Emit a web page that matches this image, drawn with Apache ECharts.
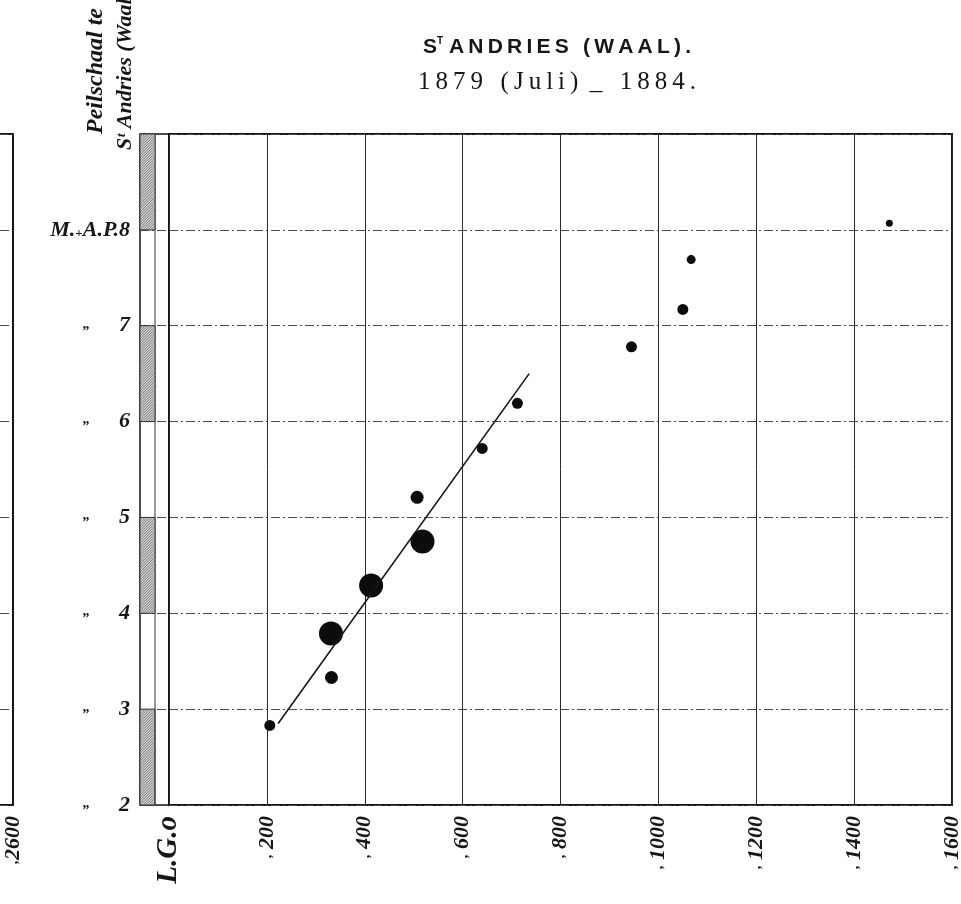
<!DOCTYPE html>
<html>
<head>
<meta charset="utf-8">
<title>St. Andries (Waal) 1879 (Juli) - 1884</title>
<script src="https://cdn.jsdelivr.net/npm/echarts@6/dist/echarts.min.js"></script>
<style>
  html, body { margin: 0; padding: 0; background: #fff; }
  #chart { width: 961px; height: 904px; }
</style>
</head>
<body>
<div id="chart"></div>
<script>
// Discharge (x) against gauge reading at St. Andries (y), 1879 (July) - 1884
const discharge   = [206, 331, 332, 413, 518, 507, 640, 712, 945, 1050, 1067, 1472];
const gaugeLevel  = [2.83, 3.79, 3.33, 4.29, 4.75, 5.21, 5.72, 6.19, 6.78, 7.17, 7.69, 8.07];
// relative weight of each observation (drawn as dot size)
const weightClass = [2, 5, 3, 5, 5, 3, 2, 2, 2, 2, 1, 0];

// fitted straight line, two end points
const fitX = [223, 736];
const fitY = [2.85, 6.50];

// tick values
const xTicks = [0, 200, 400, 600, 800, 1000, 1200, 1400, 1600];
const yTicks = [2, 3, 4, 5, 6, 7, 8, 9];
const zeroLabel = 'L.G.o';
// gauge board bands (painted metre sections)
const gaugeBands = [[2, 3], [4, 5], [6, 7], [8, 9]];
// neighbouring diagram, last discharge tick
const prevMax = 2600;

const titleLine1 = 'ANDRIES (WAAL).';
const titleLine2 = ['1879', '(Juli)', '_', '1884.'];
const sideLine1 = 'Peilschaal te';
const sideLine2 = 'Sᵗ Andries (Waal)';

// ---------- styling ----------
const DOT_PX = [7, 9, 11, 13, 14, 24];
const INK = '#161616';
const GRID_DASH = [9, 3, 2, 3];
const serif = '"Liberation Serif", "DejaVu Serif", serif';
const sans = '"Liberation Sans", "DejaVu Sans", sans-serif';
const spaced = s => s.split('').join('\u2009');
const CX = 557;
const WORD_GAP = ['\u2009  ', ' \u2009', '\u2009  '];

const chart = echarts.init(document.getElementById('chart'), null, { renderer: 'canvas' });

const points = discharge.map((x, i) => ({ value: [x, gaugeLevel[i]], symbolSize: DOT_PX[weightClass[i]] }));

const hLine = { show: true, lineStyle: { color: '#4a4a4a', width: 1, type: GRID_DASH } };
const numStyle = { fontFamily: serif, fontStyle: 'italic', fontWeight: 'bold', color: INK };

const option = {
  backgroundColor: '#ffffff',
  animation: false,
  graphic: [
    {
      type: 'text', x: CX, y: 47,
      style: {
        text: '{s|S}{t|T}{a| ' + spaced(titleLine1) + '}',
        textAlign: 'center', textVerticalAlign: 'middle',
        rich: {
          s: { fontFamily: sans, fontWeight: 'bold', fontSize: 21, fill: INK },
          t: { fontFamily: sans, fontWeight: 'bold', fontSize: 10, fill: INK, verticalAlign: 'top' },
          a: { fontFamily: sans, fontWeight: 'bold', fontSize: 21, fill: INK }
        }
      }
    },
    {
      type: 'text', x: CX, y: 82,
      style: {
        text: titleLine2.map(spaced).reduce((acc, w, i) => i === 0 ? w : acc + WORD_GAP[i - 1] + w, ''),
        font: '25px ' + serif, fill: INK,
        textAlign: 'center', textVerticalAlign: 'middle'
      }
    },
    {
      type: 'text', x: 96, y: 134, rotation: Math.PI / 2,
      style: {
        text: sideLine1, font: 'italic bold 24px ' + serif, fill: INK,
        textAlign: 'left', textVerticalAlign: 'middle'
      }
    },
    {
      type: 'text', x: 125, y: 150, rotation: Math.PI / 2,
      style: {
        text: sideLine2, font: 'italic bold 22px ' + serif, fill: INK,
        textAlign: 'left', textVerticalAlign: 'middle'
      }
    }
  ],
  grid: [
    // main diagram
    { left: 169, right: 9, top: 134, bottom: 99, outerBoundsMode: 'none', show: true, borderColor: INK, borderWidth: 2, backgroundColor: 'transparent' },
    // gauge board strip
    { left: 140, width: 29, top: 134, bottom: 99, outerBoundsMode: 'none', show: true, borderColor: INK, borderWidth: 1.5, backgroundColor: 'transparent' },
    // edge of the neighbouring diagram
    { left: -187, width: 200, top: 134, bottom: 99, outerBoundsMode: 'none', show: true, borderColor: INK, borderWidth: 2, backgroundColor: 'transparent' }
  ],
  xAxis: [
    {
      gridIndex: 0, type: 'value', min: xTicks[0], max: xTicks[xTicks.length - 1], interval: 200,
      axisLine: { show: false }, axisTick: { show: false },
      splitLine: { show: true, lineStyle: { color: '#2a2a2a', width: 1 } },
      axisLabel: {
        rotate: 90, margin: 11,
        formatter: v => v === 0 ? '{lg|' + zeroLabel + '}' : '{c|,}{g|}{n|' + v + '}',
        rich: {
          lg: Object.assign({}, numStyle, { fontSize: 29 }),
          c: Object.assign({}, numStyle, { fontSize: 15 }),
          g: { width: 5 },
          n: Object.assign({}, numStyle, { fontSize: 22 })
        }
      }
    },
    { gridIndex: 1, type: 'value', min: 0, max: 29, show: false },
    {
      gridIndex: 2, type: 'value', min: prevMax - 200, max: prevMax, interval: 200,
      axisLine: { show: false }, axisTick: { show: false }, splitLine: { show: false },
      axisLabel: {
        rotate: 90, margin: 11, showMinLabel: false,
        formatter: v => '{c|,}{n|' + v + '}',
        rich: {
          c: Object.assign({}, numStyle, { fontSize: 15 }),
          n: Object.assign({}, numStyle, { fontSize: 22 })
        }
      }
    }
  ],
  yAxis: [
    {
      gridIndex: 0, type: 'value', min: yTicks[0], max: yTicks[yTicks.length - 1], interval: 1,
      axisLine: { show: false }, axisTick: { show: false }, axisLabel: { show: false },
      splitLine: hLine
    },
    {
      gridIndex: 1, type: 'value', min: yTicks[0], max: yTicks[yTicks.length - 1], interval: 1,
      axisLine: { show: false }, axisTick: { show: false }, splitLine: hLine,
      axisLabel: {
        margin: 10, showMaxLabel: false,
        formatter: v => v === 8
          ? '{n|M.}{p|+}{n|A.P.8}'
          : '{q|\u201D}{sp|}{n|' + v + '}',
        rich: {
          n: Object.assign({}, numStyle, { fontSize: 22 }),
          p: { fontFamily: serif, fontWeight: 'bold', fontSize: 13, color: INK, padding: [8, 0, 0, 0] },
          q: { fontFamily: serif, fontStyle: 'italic', fontWeight: 'bold', fontSize: 15, color: INK, padding: [12, 0, 0, 0] },
          sp: { width: 30 }
        }
      }
    },
    {
      gridIndex: 2, type: 'value', min: yTicks[0], max: yTicks[yTicks.length - 1], interval: 1,
      axisLine: { show: false }, axisTick: { show: false }, axisLabel: { show: false },
      splitLine: hLine
    }
  ],
  series: [
    {
      name: 'peilschaal',
      type: 'custom',
      xAxisIndex: 1, yAxisIndex: 1,
      data: gaugeBands,
      silent: true,
      renderItem: (params, api) => {
        const lo = api.value(0), hi = api.value(1);
        const tl = api.coord([0, hi]);
        const br = api.coord([15, lo]);
        const x0 = tl[0], x1 = br[0], yt = tl[1], yb = br[1];
        const w = x1 - x0;
        const children = [{
          type: 'rect',
          shape: { x: x0, y: yt, width: w, height: yb - yt },
          style: { fill: '#d6d6d6', stroke: '#333', lineWidth: 1 }
        }];
        // diagonal hatching, clipped to the band
        for (let c = 0; c <= (yb - yt) + w; c += 2.6) {
          const base = yt + c;
          const xa = Math.max(x0, x0 + base - yb);
          const xb = Math.min(x1, x0 + base - yt);
          if (xb <= xa) continue;
          children.push({
            type: 'line',
            shape: { x1: xa, y1: base - (xa - x0), x2: xb, y2: base - (xb - x0) },
            style: { stroke: '#4d4d4d', lineWidth: 0.7 }
          });
        }
        if (params.dataIndex === 0) {
          const a = api.coord([15, yTicks[0]]), b = api.coord([15, yTicks[yTicks.length - 1]]);
          children.push({
            type: 'line',
            shape: { x1: a[0], y1: a[1], x2: b[0], y2: b[1] },
            style: { stroke: '#333', lineWidth: 1 }
          });
        }
        return { type: 'group', children };
      }
    },
    {
      name: 'lijn',
      type: 'line',
      xAxisIndex: 0, yAxisIndex: 0,
      data: fitX.map((x, i) => [x, fitY[i]]),
      symbol: 'none',
      lineStyle: { color: INK, width: 1.6 },
      silent: true
    },
    {
      name: 'waarnemingen',
      type: 'scatter',
      xAxisIndex: 0, yAxisIndex: 0,
      data: points,
      itemStyle: { color: '#0c0c0c', opacity: 1 },
      silent: true
    }
  ]
};

chart.setOption(option);
</script>
</body>
</html>
